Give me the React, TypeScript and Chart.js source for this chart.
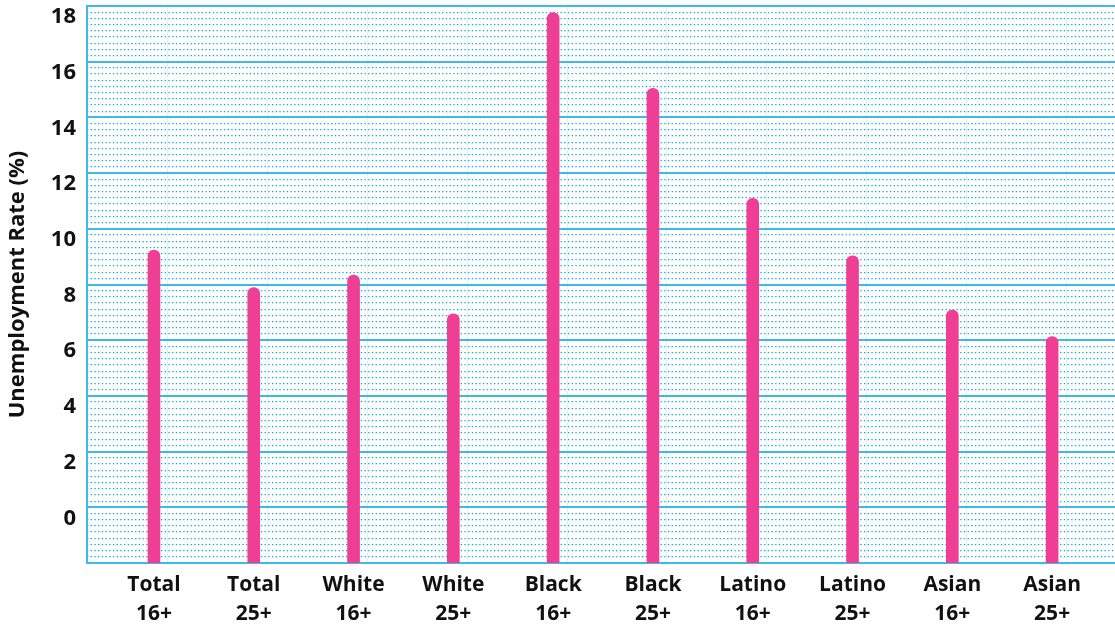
import React, { useEffect, useRef } from "react";
import { Chart, registerables } from "chart.js";

Chart.register(...registerables);

const groups = ["Total", "Total", "White", "White", "Black", "Black", "Latino", "Latino", "Asian", "Asian"];
const ages = ["16+", "25+", "16+", "25+", "16+", "25+", "16+", "25+", "16+", "25+"];
const rates = [9.24, 7.89, 8.34, 6.95, 17.76, 15.04, 11.09, 9.03, 7.08, 6.13];
const yTickValues = [0, 2, 4, 6, 8, 10, 12, 14, 16, 18];

const Y_MIN = -2;
const Y_MAX = 18;
const X_MIN = -0.671;
const X_MAX = 9.63;

const FONT = "'Open Sans', sans-serif";
const PINK = "#EE3F95";

export default function App() {
  const ref = useRef<HTMLCanvasElement | null>(null);

  useEffect(() => {
    if (!ref.current) return;
    const minorTicks: number[] = [];
    for (let k = 0; k <= 90; k++) {
      if (k % 9 !== 0) minorTicks.push(Y_MIN + (k * 2) / 9);
    }
    const chart = new Chart(ref.current, {
      type: "bar",
      data: {
        datasets: [
          {
            data: rates.map((v, i) => ({ x: i, y: [Y_MIN, v] })) as any,
            backgroundColor: PINK,
            borderWidth: 0,
            borderRadius: 6,
            borderSkipped: "start",
            barThickness: 12,
            xAxisID: "x",
            yAxisID: "y",
          },
        ],
      },
      options: {
        animation: false,
        responsive: true,
        maintainAspectRatio: false,
        layout: { padding: { top: 6, right: 0, bottom: 0, left: 0 } },
        plugins: { legend: { display: false }, tooltip: { enabled: false } },
        scales: {
          x: {
            type: "linear",
            position: "bottom",
            offset: false,
            min: X_MIN,
            max: X_MAX,
            afterBuildTicks: (s: any) => {
              s.ticks = groups.map((_, i) => ({ value: i }));
            },
            afterFit: (s: any) => {
              s.height = 63;
              s.paddingLeft = 0;
              s.paddingRight = 0;
            },
            grid: { display: false },
            border: { display: true, color: "#3DB9EE", width: 2 },
            ticks: {
              autoSkip: false,
              maxRotation: 0,
              padding: 0,
              color: "#111111",
              font: { family: FONT, size: 21, weight: "bold", lineHeight: 1.38 },
              callback: (v: any) => {
                const i = Math.round(Number(v));
                return [groups[i], ages[i]];
              },
            },
          },
          x2: {
            type: "linear",
            position: "bottom",
            offset: false,
            min: X_MIN - 0.64,
            max: X_MAX - 0.64,
            afterBuildTicks: (s: any) => {
              s.ticks = groups.map((_, i) => ({ value: i }));
            },
            afterFit: (s: any) => {
              s.height = 0;
              s.paddingLeft = 0;
              s.paddingRight = 0;
            },
            grid: { color: "rgba(61,185,238,0.18)", lineWidth: 1, drawTicks: false },
            border: { display: false },
            ticks: { display: false },
          },
          y2: {
            type: "linear",
            position: "left",
            min: Y_MIN,
            max: Y_MAX,
            afterBuildTicks: (s: any) => {
              s.ticks = minorTicks.map((v) => ({ value: v }));
            },
            afterFit: (s: any) => {
              s.width = 0;
              s.paddingTop = 0;
              s.paddingBottom = 0;
            },
            grid: { color: "#00A9EC", lineWidth: 1.2, drawTicks: false },
            border: { display: false, dash: [1.3, 2.4] },
            ticks: { display: false },
          },
          y: {
            type: "linear",
            position: "left",
            min: Y_MIN,
            max: Y_MAX,
            afterBuildTicks: (s: any) => {
              s.ticks = [Y_MIN, ...yTickValues].map((v) => ({ value: v }));
            },
            afterFit: (s: any) => {
              s.width = 87;
              s.paddingTop = 0;
              s.paddingBottom = 0;
            },
            grid: { color: "#3DB9EE", lineWidth: 2, drawTicks: false },
            border: { display: true, color: "#3DB9EE", width: 2 },
            title: {
              display: true,
              text: "Unemployment Rate (%)",
              color: "#111111",
              font: { family: FONT, size: 22, weight: "bold", lineHeight: 1.2 },
              padding: { top: 5, bottom: 0 },
            },
            ticks: {
              padding: 11,
              labelOffset: 11,
              color: "#111111",
              font: { family: FONT, size: 22, weight: "bold" },
              callback: (v: any) => (Number(v) === Y_MIN ? "" : String(v)),
            },
          },
        },
      } as any,
    });
    return () => chart.destroy();
  }, []);

  return (
    <div style={{ position: "absolute", left: 0, top: 0, width: 1115, height: 626, background: "#ffffff" }}>
      <canvas ref={ref} />
    </div>
  );
}
